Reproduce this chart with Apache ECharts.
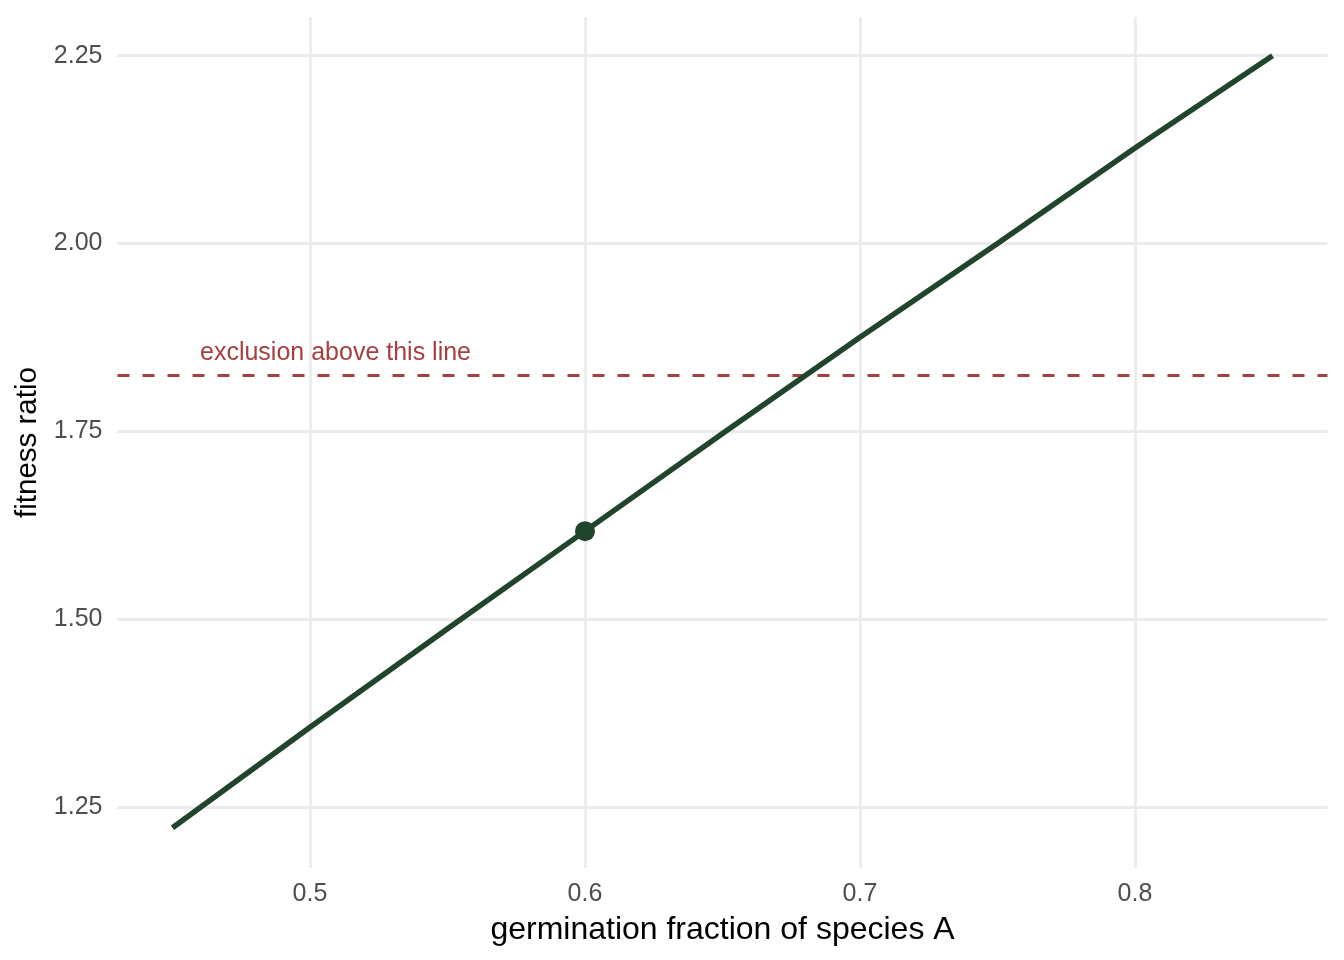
<!DOCTYPE html>
<html>
<head>
<meta charset="utf-8">
<script src="https://cdn.jsdelivr.net/npm/echarts@6/dist/echarts.min.js"></script>
<style>
html,body{margin:0;padding:0;background:#fff;}
#chart{width:1344px;height:960px;}
</style>
</head>
<body>
<div id="chart"></div>
<script>
// Data
const germination = [0.45, 0.50, 0.55, 0.60, 0.65, 0.70, 0.75, 0.80, 0.85];
const fitnessRatio = [1.222, 1.356, 1.487, 1.617, 1.747, 1.875, 2.000, 2.127, 2.250];
const focalPoint = [0.60, 1.617];
const exclusionThreshold = 1.825;
const annotationPos = [0.46, 1.85];
const annotationText = 'exclusion above this line';
const xTicks = [0.5, 0.6, 0.7, 0.8];
const yTicks = [1.25, 1.50, 1.75, 2.00, 2.25];
const xTickLabels = ['0.5', '0.6', '0.7', '0.8'];
const yTickLabels = ['1.25', '1.50', '1.75', '2.00', '2.25'];

const GREEN = '#20442c';
const RED = '#a63f3f';
const GRID = '#ebebeb';
const FONT = '"Liberation Sans", Arial, Helvetica, sans-serif';

const chart = echarts.init(document.getElementById('chart'));
const option = {
  backgroundColor: '#ffffff',
  animation: false,
  grid: { left: 117.5, right: 16.5, top: 17, bottom: 92, containLabel: false },
  xAxis: {
    type: 'value',
    min: 0.43, max: 0.87,
    name: 'germination fraction of species A',
    nameLocation: 'middle',
    nameGap: 46,
    nameTextStyle: { color: '#000', fontSize: 32, fontFamily: FONT },
    axisLine: { show: false },
    axisTick: { show: false, customValues: xTicks },
    axisLabel: {
      customValues: xTicks,
      margin: 14,
      color: '#4d4d4d', fontSize: 25, fontFamily: FONT,
      formatter: v => { const i = xTicks.findIndex(t => Math.abs(t - v) < 1e-9); return i >= 0 ? xTickLabels[i] : ''; }
    },
    splitLine: { show: true, lineStyle: { color: GRID, width: 2.8 } }
  },
  yAxis: {
    type: 'value',
    min: 1.1685, max: 2.3015,
    name: 'fitness ratio',
    nameLocation: 'middle',
    nameGap: 65,
    nameTextStyle: { color: '#000', fontSize: 29.5, fontFamily: FONT },
    axisLine: { show: false },
    axisTick: { show: false, customValues: yTicks },
    axisLabel: {
      customValues: yTicks,
      margin: 15,
      color: '#4d4d4d', fontSize: 25, fontFamily: FONT,
      formatter: v => { const i = yTicks.findIndex(t => Math.abs(t - v) < 1e-9); return i >= 0 ? yTickLabels[i] : ''; }
    },
    splitLine: { show: true, lineStyle: { color: GRID, width: 2.8 } }
  },
  series: [
    {
      type: 'line',
      data: germination.map((g, i) => [g, fitnessRatio[i]]),
      showSymbol: false,
      symbol: 'none',
      smooth: false,
      z: 10,
      lineStyle: { color: GREEN, width: 5.5, cap: 'butt', opacity: 1 },
      silent: true,
      markLine: {
        silent: true,
        symbol: 'none',
        precision: 4,
        z: 5,
        label: { show: false },
        emphasis: { disabled: true },
        lineStyle: { color: RED, width: 2.8, type: [12, 13], opacity: 1 },
        data: [{ yAxis: exclusionThreshold }]
      }
    },
    {
      type: 'scatter',
      data: [focalPoint],
      symbol: 'circle',
      symbolSize: 20,
      z: 11,
      itemStyle: { color: GREEN, opacity: 1 },
      silent: true
    },
    {
      type: 'scatter',
      data: [annotationPos],
      symbolSize: 0,
      z: 12,
      silent: true,
      itemStyle: { opacity: 1 },
      label: {
        show: true,
        position: 'right',
        distance: 0,
        offset: [0, -3],
        formatter: annotationText,
        color: RED,
        opacity: 1,
        fontSize: 25,
        fontFamily: FONT,
        align: 'left',
        verticalAlign: 'middle'
      }
    }
  ]
};
chart.setOption(option);
</script>
</body>
</html>
